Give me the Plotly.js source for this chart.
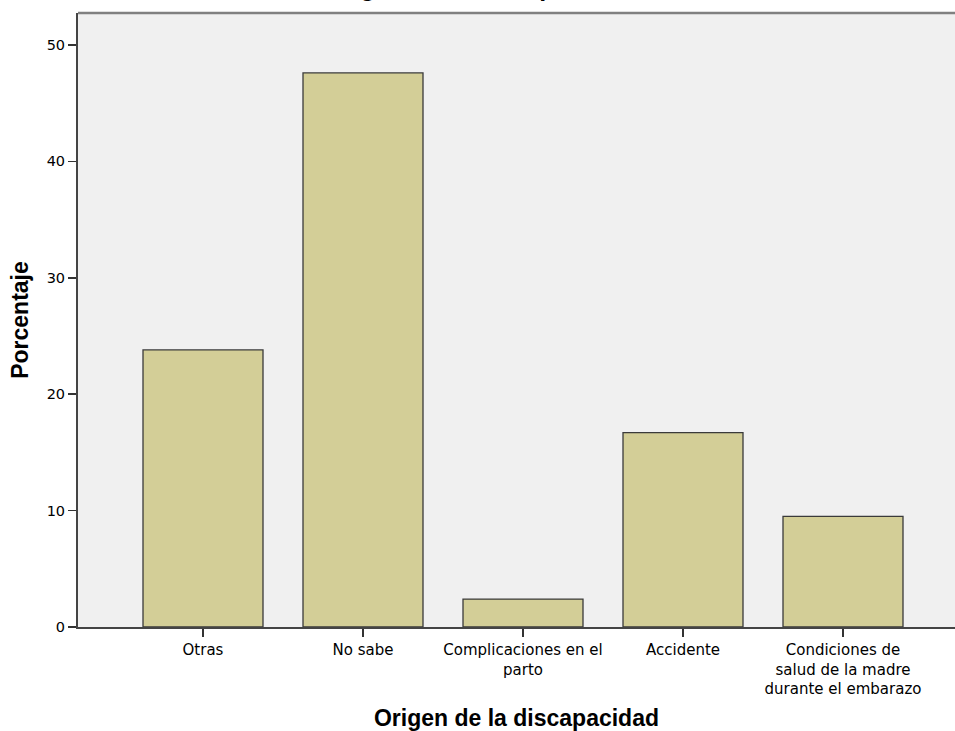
<!DOCTYPE html>
<html>
<head>
<meta charset="utf-8">
<script src="https://cdn.plot.ly/plotly-3.0.1.min.js"></script>
<style>html,body{margin:0;padding:0;background:#fff;}#chart{width:955px;height:731px;}</style>
</head>
<body>
<div id="chart"></div>
<script>
const categories = ["Otras", "No sabe", "Complicaciones en el<br>parto", "Accidente", "Condiciones de<br>salud de la madre<br>durante el embarazo"];
const porcentaje = [23.8, 47.6, 2.4, 16.7, 9.5];
const yTicks = [0, 10, 20, 30, 40, 50];
const chartTitle = "Origen de la discapacidad";
const xTitle = "Origen de la discapacidad";
const yTitle = "Porcentaje";

const trace = {
  type: "bar",
  x: categories,
  y: porcentaje,
  marker: {color: "#D3CE97", line: {color: "#3a3a3a", width: 1.3}},
  hoverinfo: "x+y"
};

const layout = {
  width: 955, height: 731,
  margin: {l: 78, r: 0, t: 13, b: 104},
  paper_bgcolor: "#ffffff",
  plot_bgcolor: "#F0F0F0",
  showlegend: false,
  bargap: 0.25,
  font: {family: "DejaVu Sans", size: 15, color: "#000"},
  xaxis: {
    type: "category",
    range: [-0.78125, 4.7],
    showgrid: false, zeroline: false,
    showline: true, linecolor: "#444", linewidth: 2,
    ticks: "outside", ticklen: 8, tickwidth: 1.5, tickcolor: "#333",
    tickfont: {family: "DejaVu Sans", size: 15, color: "#000"},
    title: {text: xTitle, font: {family: "Liberation Sans, Arial", size: 23, color: "#000", weight: "bold"}, standoff: 20},
    automargin: false
  },
  yaxis: {
    range: [0, 52.75],
    tickvals: yTicks,
    showgrid: false, zeroline: false,
    showline: true, linecolor: "#444", linewidth: 2,
    ticks: "outside", ticklen: 8, tickwidth: 1.5, tickcolor: "#333",
    tickfont: {family: "DejaVu Sans", size: 14.5, color: "#000"},
    title: {text: yTitle, font: {family: "Liberation Sans, Arial", size: 23, color: "#000", weight: "bold"}, standoff: 12},
    automargin: false
  },
  shapes: [{
    type: "line", xref: "paper", yref: "paper", x0: 0, x1: 1, y0: 1, y1: 1,
    line: {color: "#808080", width: 2.5}
  }],
  annotations: [{
    text: "<b>" + chartTitle + "</b>",
    xref: "paper", yref: "paper",
    x: 0.457, y: 1 + 10 / 614,
    xanchor: "center", yanchor: "bottom",
    showarrow: false,
    font: {family: "Liberation Sans, Arial", size: 25, color: "#000"}
  }]
};

Plotly.newPlot("chart", [trace], layout, {displayModeBar: false, staticPlot: true});
</script>
</body>
</html>
